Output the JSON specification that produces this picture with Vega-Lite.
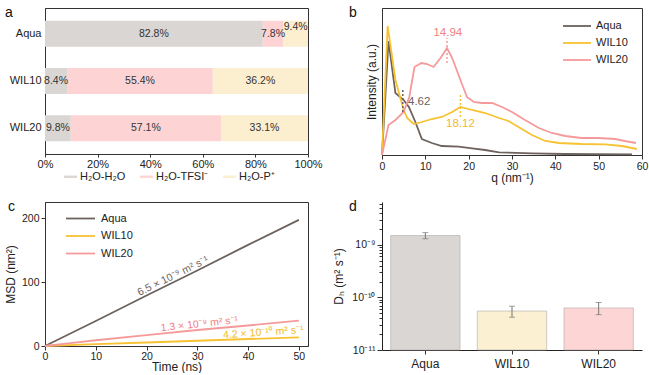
{
  "$schema": "https://vega.github.io/schema/vega-lite/v6.json",
  "padding": {"left": 3, "top": 5, "right": 0, "bottom": 0},
  "config": {
    "font": "Liberation Sans",
    "view": {"stroke": "#333", "strokeWidth": 1},
    "axis": {"domainColor": "#333", "tickColor": "#333", "labelColor": "#222", "titleColor": "#222", "labelFontSize": 10.5, "titleFontSize": 12, "titleFontWeight": "normal", "grid": false, "tickSize": 4, "labelPadding": 2, "labelFlush": false},
    "legend": {"labelFontSize": 10.5, "labelColor": "#222"},
    "title": {"fontSize": 14, "fontWeight": "normal", "anchor": "start", "frame": "group", "color": "#111"}
  },
  "resolve": {"scale": {"color": "independent"}, "legend": {"color": "independent"}},
  "columns": 2,
  "bounds": "flush",
  "spacing": {"row": 47, "column": 74},
  "concat": [
    {
      "width": 263, "height": 146,
      "view": {"stroke": "#333"},
      "title": {"text": "a", "dx": -40, "dy": 12, "offset": 0},
      "data": {"values": [
        {"sample": "Aqua", "type": "H₂O-H₂O", "k": 1, "pct": 82.8, "lab": "82.8%"},
        {"sample": "Aqua", "type": "H₂O-TFSI⁻", "k": 2, "pct": 7.8, "lab": "7.8%"},
        {"sample": "Aqua", "type": "H₂O-P⁺", "k": 3, "pct": 9.4, "lab": "9.4%"},
        {"sample": "WIL10", "type": "H₂O-H₂O", "k": 1, "pct": 8.4, "lab": "8.4%"},
        {"sample": "WIL10", "type": "H₂O-TFSI⁻", "k": 2, "pct": 55.4, "lab": "55.4%"},
        {"sample": "WIL10", "type": "H₂O-P⁺", "k": 3, "pct": 36.2, "lab": "36.2%"},
        {"sample": "WIL20", "type": "H₂O-H₂O", "k": 1, "pct": 9.8, "lab": "9.8%"},
        {"sample": "WIL20", "type": "H₂O-TFSI⁻", "k": 2, "pct": 57.1, "lab": "57.1%"},
        {"sample": "WIL20", "type": "H₂O-P⁺", "k": 3, "pct": 33.1, "lab": "33.1%"}
      ]},
      "transform": [
        {"stack": "pct", "groupby": ["sample"], "sort": [{"field": "k"}], "as": ["x0", "x1"]},
        {"calculate": "(datum.x0 + datum.x1) / 2", "as": "xm"}
      ],
      "encoding": {
        "y": {"field": "sample", "type": "nominal", "sort": ["Aqua", "WIL10", "WIL20"], "scale": {"paddingInner": 0.45, "paddingOuter": 0.27}, "axis": {"title": null, "ticks": false, "labelFontSize": 11, "labelPadding": 4}}
      },
      "layer": [
        {
          "mark": {"type": "bar"},
          "encoding": {
            "x": {"field": "x0", "type": "quantitative", "scale": {"domain": [0, 100], "nice": false}, "axis": {"values": [0, 20, 40, 60, 80, 100], "labelExpr": "datum.value + '%'", "title": null, "labelFontSize": 11, "tickSize": 3, "labelPadding": 1}},
            "x2": {"field": "x1"},
            "color": {"field": "type", "type": "nominal", "scale": {"domain": ["H₂O-H₂O", "H₂O-TFSI⁻", "H₂O-P⁺"], "range": ["#dad6d3", "#fdd3d3", "#fcefd0"]},
              "legend": {"orient": "none", "legendX": 19, "legendY": 162, "direction": "horizontal", "title": null, "symbolType": "M-1,-0.18L1,-0.18L1,0.18L-1,0.18Z", "symbolSize": 169, "symbolStrokeWidth": 0, "columnPadding": 14, "labelFontSize": 11, "labelOffset": 3}}
          }
        },
        {
          "transform": [{"filter": "datum.lab != '9.4%'"}],
          "mark": {"type": "text", "fontSize": 10.5, "color": "#333"},
          "encoding": {
            "x": {"field": "xm", "type": "quantitative"},
            "text": {"field": "lab"}
          }
        },
        {
          "transform": [{"filter": "datum.lab == '9.4%'"}],
          "mark": {"type": "text", "fontSize": 10.5, "color": "#333", "dy": -7},
          "encoding": {
            "x": {"field": "xm", "type": "quantitative"},
            "text": {"field": "lab"}
          }
        }
      ]
    },
    {
      "width": 260, "height": 147,
      "title": {"text": "b", "dx": -33, "dy": 12, "offset": 0},
      "layer": [
        {
          "data": {"values": [
            {"s": "Aqua", "q": 0, "v": 0}, {"s": "Aqua", "q": 1.5, "v": 114}, {"s": "Aqua", "q": 3.1, "v": 62}, {"s": "Aqua", "q": 5, "v": 55}, {"s": "Aqua", "q": 6.2, "v": 48}, {"s": "Aqua", "q": 7.7, "v": 33}, {"s": "Aqua", "q": 9.2, "v": 16}, {"s": "Aqua", "q": 11.5, "v": 12}, {"s": "Aqua", "q": 13.8, "v": 9}, {"s": "Aqua", "q": 17.7, "v": 8.3}, {"s": "Aqua", "q": 20.8, "v": 6.7}, {"s": "Aqua", "q": 23.8, "v": 5}, {"s": "Aqua", "q": 27, "v": 2.7}, {"s": "Aqua", "q": 34.6, "v": 1.7}, {"s": "Aqua", "q": 42, "v": 1}, {"s": "Aqua", "q": 57.7, "v": 0.7},
            {"s": "WIL10", "q": 0, "v": 0}, {"s": "WIL10", "q": 1.3, "v": 129}, {"s": "WIL10", "q": 3.1, "v": 75}, {"s": "WIL10", "q": 5, "v": 45}, {"s": "WIL10", "q": 5.8, "v": 37}, {"s": "WIL10", "q": 7.3, "v": 31}, {"s": "WIL10", "q": 9.2, "v": 33}, {"s": "WIL10", "q": 11.5, "v": 36}, {"s": "WIL10", "q": 13.8, "v": 38}, {"s": "WIL10", "q": 16.2, "v": 43}, {"s": "WIL10", "q": 18.1, "v": 48}, {"s": "WIL10", "q": 20.8, "v": 45}, {"s": "WIL10", "q": 23.8, "v": 42}, {"s": "WIL10", "q": 27, "v": 37}, {"s": "WIL10", "q": 29.2, "v": 34}, {"s": "WIL10", "q": 31.5, "v": 28}, {"s": "WIL10", "q": 34.6, "v": 20}, {"s": "WIL10", "q": 37.7, "v": 14}, {"s": "WIL10", "q": 40.8, "v": 12}, {"s": "WIL10", "q": 46, "v": 11}, {"s": "WIL10", "q": 51.5, "v": 10.7}, {"s": "WIL10", "q": 55.4, "v": 9}, {"s": "WIL10", "q": 58.8, "v": 6},
            {"s": "WIL20", "q": 0, "v": 0}, {"s": "WIL20", "q": 1.5, "v": 30}, {"s": "WIL20", "q": 3.1, "v": 35}, {"s": "WIL20", "q": 5, "v": 43}, {"s": "WIL20", "q": 6.3, "v": 58}, {"s": "WIL20", "q": 7.5, "v": 88}, {"s": "WIL20", "q": 9.1, "v": 92}, {"s": "WIL20", "q": 10.4, "v": 91}, {"s": "WIL20", "q": 11.9, "v": 88}, {"s": "WIL20", "q": 13.5, "v": 97}, {"s": "WIL20", "q": 15, "v": 107}, {"s": "WIL20", "q": 16.2, "v": 97}, {"s": "WIL20", "q": 18.1, "v": 75}, {"s": "WIL20", "q": 19.6, "v": 58}, {"s": "WIL20", "q": 21.2, "v": 53}, {"s": "WIL20", "q": 23, "v": 52}, {"s": "WIL20", "q": 25.4, "v": 52}, {"s": "WIL20", "q": 27.7, "v": 48}, {"s": "WIL20", "q": 30, "v": 43}, {"s": "WIL20", "q": 33, "v": 35}, {"s": "WIL20", "q": 36.2, "v": 27}, {"s": "WIL20", "q": 39.2, "v": 22}, {"s": "WIL20", "q": 42.3, "v": 19}, {"s": "WIL20", "q": 46, "v": 17}, {"s": "WIL20", "q": 50, "v": 17}, {"s": "WIL20", "q": 53.8, "v": 16}, {"s": "WIL20", "q": 56, "v": 14}, {"s": "WIL20", "q": 58.6, "v": 12}
          ]},
          "mark": {"type": "line", "strokeWidth": 1.8},
          "encoding": {
            "x": {"field": "q", "type": "quantitative", "scale": {"domain": [0, 60], "nice": false}, "axis": {"values": [0, 5, 10, 15, 20, 25, 30, 35, 40, 45, 50, 55, 60], "labelExpr": "datum.value % 10 == 0 ? datum.label : ''", "tickSize": {"condition": {"test": "datum.value % 10 == 0", "value": 4}, "value": 2}, "title": "q (nm⁻¹)", "titlePadding": 1}},
            "y": {"field": "v", "type": "quantitative", "scale": {"domain": [0, 147], "nice": false}, "axis": {"labels": false, "ticks": false, "title": "Intensity (a.u.)", "titlePadding": 4}},
            "color": {"field": "s", "type": "nominal", "scale": {"domain": ["Aqua", "WIL10", "WIL20"], "range": ["#6e625d", "#f7c232", "#f59a9a"]},
              "legend": {"title": null, "orient": "none", "legendX": 187, "legendY": 10, "symbolType": "M-2,0L2,0", "symbolSize": 196, "symbolStrokeWidth": 1.8, "labelFontSize": 11, "rowPadding": 4, "labelOffset": 11}}
          }
        },
        {
          "data": {"values": [{"q": 15, "v1": 92, "v2": 117}]},
          "mark": {"type": "rule", "color": "#f59a9a", "strokeDash": [2, 2], "strokeWidth": 1.5},
          "encoding": {"x": {"field": "q", "type": "quantitative"}, "y": {"field": "v1", "type": "quantitative"}, "y2": {"field": "v2"}}
        },
        {
          "data": {"values": [{"q": 4.8, "v1": 43, "v2": 67}]},
          "mark": {"type": "rule", "color": "#6e625d", "strokeDash": [2, 2], "strokeWidth": 1.5},
          "encoding": {"x": {"field": "q", "type": "quantitative"}, "y": {"field": "v1", "type": "quantitative"}, "y2": {"field": "v2"}}
        },
        {
          "data": {"values": [{"q": 18.1, "v1": 38, "v2": 61}]},
          "mark": {"type": "rule", "color": "#f7c232", "strokeDash": [2, 2], "strokeWidth": 1.5},
          "encoding": {"x": {"field": "q", "type": "quantitative"}, "y": {"field": "v1", "type": "quantitative"}, "y2": {"field": "v2"}}
        },
        {
          "data": {"values": [{"q": 15.2, "v": 122, "t": "14.94"}]},
          "mark": {"type": "text", "color": "#f08080", "fontSize": 11.5},
          "encoding": {"x": {"field": "q", "type": "quantitative"}, "y": {"field": "v", "type": "quantitative"}, "text": {"field": "t"}}
        },
        {
          "data": {"values": [{"q": 6.0, "v": 53, "t": "4.62"}]},
          "mark": {"type": "text", "color": "#6e625d", "fontSize": 11.5, "align": "left"},
          "encoding": {"x": {"field": "q", "type": "quantitative"}, "y": {"field": "v", "type": "quantitative"}, "text": {"field": "t"}}
        },
        {
          "data": {"values": [{"q": 18.1, "v": 31, "t": "18.12"}]},
          "mark": {"type": "text", "color": "#f2b92c", "fontSize": 11.5},
          "encoding": {"x": {"field": "q", "type": "quantitative"}, "y": {"field": "v", "type": "quantitative"}, "text": {"field": "t"}}
        }
      ]
    },
    {
      "width": 263, "height": 144,
      "title": {"text": "c", "dx": -37, "dy": 12, "offset": 0},
      "layer": [
        {
          "data": {"values": [
            {"s": "Aqua", "t": 0, "m": 0}, {"s": "Aqua", "t": 10, "m": 39}, {"s": "Aqua", "t": 20, "m": 79}, {"s": "Aqua", "t": 30, "m": 118}, {"s": "Aqua", "t": 40, "m": 158}, {"s": "Aqua", "t": 50, "m": 197},
            {"s": "WIL10", "t": 0, "m": 0}, {"s": "WIL10", "t": 10, "m": 2.8}, {"s": "WIL10", "t": 20, "m": 5.5}, {"s": "WIL10", "t": 30, "m": 8.2}, {"s": "WIL10", "t": 40, "m": 10.9}, {"s": "WIL10", "t": 50, "m": 13.6},
            {"s": "WIL20", "t": 0, "m": 0}, {"s": "WIL20", "t": 5, "m": 4.5}, {"s": "WIL20", "t": 10, "m": 9}, {"s": "WIL20", "t": 20, "m": 17}, {"s": "WIL20", "t": 30, "m": 25}, {"s": "WIL20", "t": 40, "m": 32}, {"s": "WIL20", "t": 50, "m": 39.5}
          ]},
          "mark": {"type": "line", "strokeWidth": 1.8},
          "encoding": {
            "x": {"field": "t", "type": "quantitative", "scale": {"domain": [0, 51.8], "nice": false}, "axis": {"values": [0, 5, 10, 15, 20, 25, 30, 35, 40, 45, 50], "labelExpr": "datum.value % 10 == 0 ? datum.label : ''", "tickSize": {"condition": {"test": "datum.value % 10 == 0", "value": 4}, "value": 2}, "title": "Time (ns)", "titlePadding": 0, "labelPadding": 1}},
            "y": {"field": "m", "type": "quantitative", "scale": {"domain": [0, 225], "nice": false}, "axis": {"values": [0, 25, 50, 75, 100, 125, 150, 175, 200, 225], "labelExpr": "datum.value % 50 == 0 ? datum.label : ''", "tickSize": {"condition": {"test": "datum.value % 50 == 0", "value": 4}, "value": 2}, "title": "MSD (nm²)", "titlePadding": 4}},
            "color": {"field": "s", "type": "nominal", "scale": {"domain": ["Aqua", "WIL10", "WIL20"], "range": ["#6e625d", "#f7c232", "#f59a9a"]},
              "legend": {"title": null, "orient": "none", "legendX": 27, "legendY": 8, "symbolType": "M-2,0L2,0", "symbolSize": 210, "symbolStrokeWidth": 1.8, "labelFontSize": 11, "rowPadding": 3.5, "labelOffset": 12}}
          }
        },
        {
          "data": {"values": [{"t": 25.2, "m": 109, "txt": "6.5 × 10⁻⁹ m² s⁻¹"}]},
          "mark": {"type": "text", "color": "#6e625d", "fontSize": 10.5, "angle": 334},
          "encoding": {"x": {"field": "t", "type": "quantitative"}, "y": {"field": "m", "type": "quantitative"}, "text": {"field": "txt"}}
        },
        {
          "data": {"values": [{"t": 30.4, "m": 34, "txt": "1.3 × 10⁻⁹ m² s⁻¹"}]},
          "mark": {"type": "text", "color": "#f08080", "fontSize": 10.5, "angle": 354},
          "encoding": {"x": {"field": "t", "type": "quantitative"}, "y": {"field": "m", "type": "quantitative"}, "text": {"field": "txt"}}
        },
        {
          "data": {"values": [{"t": 43, "m": 21, "txt": "4.2 × 10⁻¹⁰ m² s⁻¹"}]},
          "mark": {"type": "text", "color": "#f2b92c", "fontSize": 10.5, "angle": 356},
          "encoding": {"x": {"field": "t", "type": "quantitative"}, "y": {"field": "m", "type": "quantitative"}, "text": {"field": "txt"}}
        }
      ]
    },
    {
      "width": 260, "height": 148,
      "view": {"stroke": null},
      "title": {"text": "d", "dx": -33, "dy": 12, "offset": 0},
      "data": {"values": [
        {"sample": "Aqua", "D": 1.5e-9, "lo": 1.3e-9, "hi": 1.7e-9},
        {"sample": "WIL10", "D": 5.5e-11, "lo": 4.2e-11, "hi": 6.8e-11},
        {"sample": "WIL20", "D": 6.3e-11, "lo": 4.7e-11, "hi": 8.0e-11}
      ]},
      "encoding": {
        "x": {"field": "sample", "type": "nominal", "sort": ["Aqua", "WIL10", "WIL20"], "scale": {"paddingInner": 0.2, "paddingOuter": 0.1}, "axis": {"title": null, "labelAngle": 0, "labelFontSize": 12, "domainColor": "#222", "labelPadding": 4}}
      },
      "layer": [
        {
          "mark": {"type": "bar", "stroke": "#b0aaa6", "strokeWidth": 1, "strokeOpacity": 0.6},
          "encoding": {
            "y": {"field": "D", "type": "quantitative", "title": "Dₕ (m² s⁻¹)", "scale": {"type": "log", "domain": [1e-11, 6.5e-9], "nice": false},
              "axis": {"title": "Dₕ (m² s⁻¹)", "titlePadding": 6, "domainColor": "#222",
                "values": [1e-11, 2e-11, 3e-11, 4e-11, 5e-11, 6e-11, 7e-11, 8e-11, 9e-11, 1e-10, 2e-10, 3e-10, 4e-10, 5e-10, 6e-10, 7e-10, 8e-10, 9e-10, 1e-9, 2e-9, 3e-9, 4e-9, 5e-9, 6e-9],
                "labelExpr": "datum.value < 1.5e-11 ? '10⁻¹¹' : (datum.value > 9.5e-11 && datum.value < 1.5e-10) ? '10⁻¹⁰' : (datum.value > 9.5e-10 && datum.value < 1.5e-9) ? '10⁻⁹' : ''",
                "tickSize": {"condition": {"test": "datum.value < 1.5e-11 || (datum.value > 9.5e-11 && datum.value < 1.5e-10) || (datum.value > 9.5e-10 && datum.value < 1.5e-9)", "value": 5}, "value": 3}}},
            "y2": {"datum": 1e-11},
            "color": {"field": "sample", "type": "nominal", "scale": {"domain": ["Aqua", "WIL10", "WIL20"], "range": ["#dad6d3", "#fcf0d2", "#fdd5d5"]}, "legend": null}
          }
        },
        {
          "mark": {"type": "errorbar", "ticks": {"size": 6}, "color": "#777"},
          "encoding": {
            "y": {"field": "lo", "type": "quantitative", "title": "Dₕ (m² s⁻¹)"},
            "y2": {"field": "hi"}
          }
        }
      ]
    }
  ]
}
